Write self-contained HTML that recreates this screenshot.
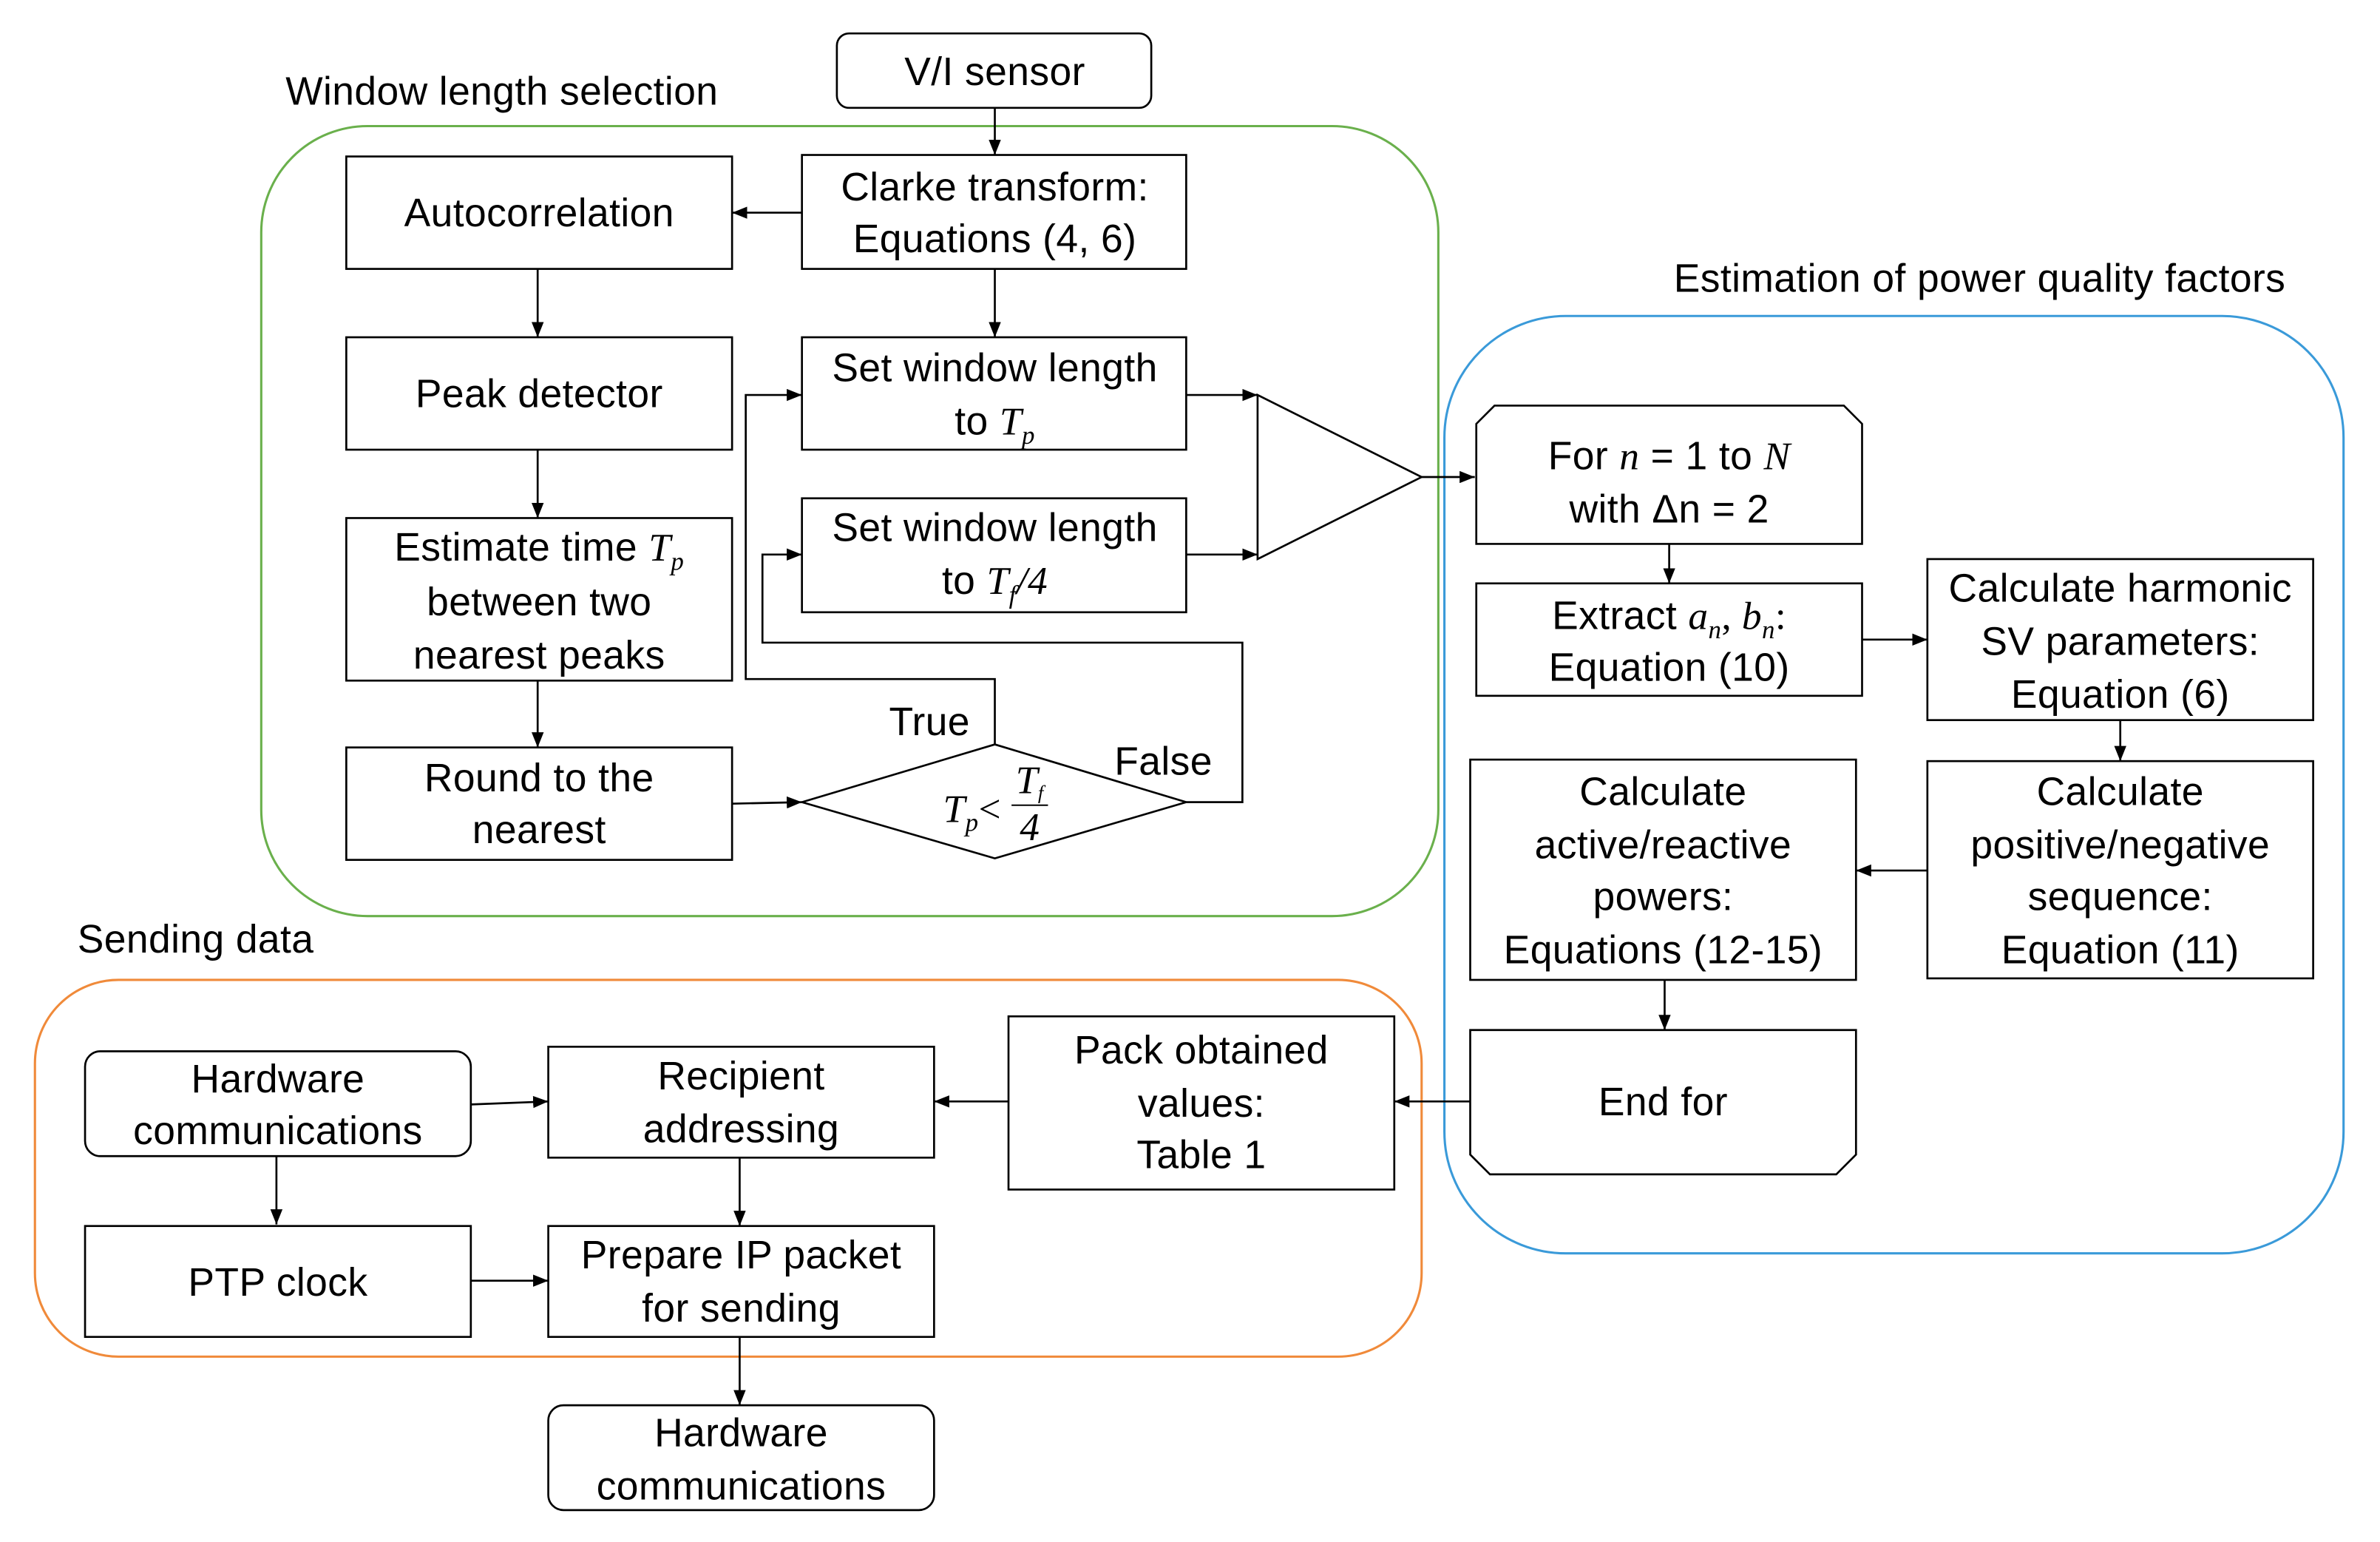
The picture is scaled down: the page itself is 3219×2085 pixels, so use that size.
<!DOCTYPE html>
<html><head><meta charset="utf-8"><style>
html,body{margin:0;padding:0;background:#fff;}
svg{display:block;}
text{font-family:"Liberation Sans",sans-serif;font-size:26px;letter-spacing:0.2px;fill:#000;}
.m{font-family:"Liberation Serif",serif;font-style:italic;}
.b{fill:#fff;stroke:#000;stroke-width:1.3;}
.l{fill:none;stroke:#000;stroke-width:1.3;}
</style></head><body>
<svg width="3219" height="2085" viewBox="0 0 1567 1015" preserveAspectRatio="none" xmlns="http://www.w3.org/2000/svg">
<defs><marker id="a" markerWidth="10" markerHeight="8" refX="10" refY="4" orient="auto" markerUnits="userSpaceOnUse"><path d="M0,0 L10,4 L0,8 z" fill="#000"/></marker></defs>
<rect width="1567" height="1015" fill="#fff"/>
<rect x="172" y="83" width="775" height="520" rx="70" fill="none" stroke="#6ab04c" stroke-width="1.5"/>
<rect x="951" y="208" width="592" height="617" rx="80" fill="none" stroke="#3a9ad9" stroke-width="1.5"/>
<rect x="23" y="645" width="913" height="248" rx="55" fill="none" stroke="#f08a3a" stroke-width="1.5"/>
<text x="188" y="69">Window length selection</text>
<text x="1102" y="192">Estimation of power quality factors</text>
<text x="51" y="627">Sending data</text>
<g text-anchor="middle">
<rect class="b" x="551" y="22" width="207" height="49" rx="8"/><text x="655" y="56">V/I sensor</text>
<rect class="b" x="528" y="102" width="253" height="75"/><text x="655" y="132">Clarke transform:</text><text x="655" y="166">Equations (4, 6)</text>
<rect class="b" x="228" y="103" width="254" height="74"/><text x="355" y="149">Autocorrelation</text>
<rect class="b" x="228" y="222" width="254" height="74"/><text x="355" y="268">Peak detector</text>
<rect class="b" x="228" y="341" width="254" height="107"/><text x="355" y="369">Estimate time <tspan class="m">T<tspan font-size="17" dy="6">p</tspan></tspan></text><text x="355" y="405">between two</text><text x="355" y="440">nearest peaks</text>
<rect class="b" x="228" y="492" width="254" height="74"/><text x="355" y="521">Round to the</text><text x="355" y="555">nearest</text>
<rect class="b" x="528" y="222" width="253" height="74"/><text x="655" y="251">Set window length</text><text x="655" y="286">to <tspan class="m">T<tspan font-size="17" dy="6">p</tspan></tspan></text>
<rect class="b" x="528" y="328" width="253" height="75"/><text x="655" y="356">Set window length</text><text x="655" y="391">to <tspan class="m">T<tspan font-size="17" dy="6">f</tspan><tspan dy="-6">/4</tspan></tspan></text>
<polygon class="b" points="528,528 655,490 781,528 655,565"/>
<text x="640" y="541" class="m">T<tspan font-size="17" dy="6">p</tspan><tspan dy="-6" font-style="normal">&lt;</tspan></text>
<text x="678" y="522" class="m" font-size="18">T<tspan font-size="13" dy="4">f</tspan></text>
<line x1="666" y1="530" x2="690" y2="530" stroke="#000" stroke-width="1"/>
<text x="678" y="553" class="m" font-size="16" font-style="normal">4</text>
<text x="612" y="484">True</text><text x="766" y="510">False</text>
<polygon class="b" points="828,260 828,368 936,314"/>
<polygon class="b" points="984,267 1214,267 1226,279 1226,358 972,358 972,279"/>
<text x="1099" y="309">For <tspan class="m">n</tspan> = 1 to <tspan class="m">N</tspan></text><text x="1099" y="344">with Δn = 2</text>
<rect class="b" x="972" y="384" width="254" height="74"/><text x="1099" y="414">Extract <tspan class="m">a<tspan font-size="17" dy="6">n</tspan><tspan dy="-6" font-style="normal">, </tspan>b<tspan font-size="17" dy="6">n</tspan><tspan dy="-6" font-style="normal">:</tspan></tspan></text><text x="1099" y="448">Equation (10)</text>
<rect class="b" x="1269" y="368" width="254" height="106"/><text x="1396" y="396">Calculate harmonic</text><text x="1396" y="431">SV parameters:</text><text x="1396" y="466">Equation (6)</text>
<rect class="b" x="1269" y="501" width="254" height="143"/><text x="1396" y="530">Calculate</text><text x="1396" y="565">positive/negative</text><text x="1396" y="599">sequence:</text><text x="1396" y="634">Equation (11)</text>
<rect class="b" x="968" y="500" width="254" height="145"/><text x="1095" y="530">Calculate</text><text x="1095" y="565">active/reactive</text><text x="1095" y="599">powers:</text><text x="1095" y="634">Equations (12-15)</text>
<polygon class="b" points="968,678 1222,678 1222,760 1209,773 981,773 968,760"/><text x="1095" y="734">End for</text>
<rect class="b" x="664" y="669" width="254" height="114"/><text x="791" y="700">Pack obtained</text><text x="791" y="735">values:</text><text x="791" y="769">Table 1</text>
<rect class="b" x="361" y="689" width="254" height="73"/><text x="488" y="717">Recipient</text><text x="488" y="752">addressing</text>
<rect class="b" x="56" y="692" width="254" height="69" rx="10"/><text x="183" y="719">Hardware</text><text x="183" y="753">communications</text>
<rect class="b" x="56" y="807" width="254" height="73"/><text x="183" y="853">PTP clock</text>
<rect class="b" x="361" y="807" width="254" height="73"/><text x="488" y="835">Prepare IP packet</text><text x="488" y="870">for sending</text>
<rect class="b" x="361" y="925" width="254" height="69" rx="10"/><text x="488" y="952">Hardware</text><text x="488" y="987">communications</text>
</g>
<g class="l" marker-end="url(#a)">
<line x1="655" y1="71" x2="655" y2="102"/>
<line x1="528" y1="140" x2="482" y2="140"/>
<line x1="655" y1="177" x2="655" y2="222"/>
<line x1="354" y1="177" x2="354" y2="222"/>
<line x1="354" y1="296" x2="354" y2="341"/>
<line x1="354" y1="448" x2="354" y2="492"/>
<line x1="482" y1="529" x2="528" y2="528"/>
<polyline points="655,490 655,447 491,447 491,260 528,260"/>
<polyline points="781,528 818,528 818,423 502,423 502,365 528,365"/>
<line x1="781" y1="260" x2="828" y2="260"/>
<line x1="781" y1="365" x2="828" y2="365"/>
<line x1="936" y1="314" x2="971" y2="314"/>
<line x1="1099" y1="358" x2="1099" y2="384"/>
<line x1="1226" y1="421" x2="1269" y2="421"/>
<line x1="1396" y1="474" x2="1396" y2="501"/>
<line x1="1269" y1="573" x2="1222" y2="573"/>
<line x1="1096" y1="645" x2="1096" y2="678"/>
<line x1="968" y1="725" x2="918" y2="725"/>
<line x1="664" y1="725" x2="615" y2="725"/>
<line x1="310" y1="727" x2="361" y2="725"/>
<line x1="182" y1="761" x2="182" y2="806"/>
<line x1="310" y1="843" x2="361" y2="843"/>
<line x1="487" y1="762" x2="487" y2="807"/>
<line x1="487" y1="880" x2="487" y2="925"/>
</g>
</svg>
</body></html>
